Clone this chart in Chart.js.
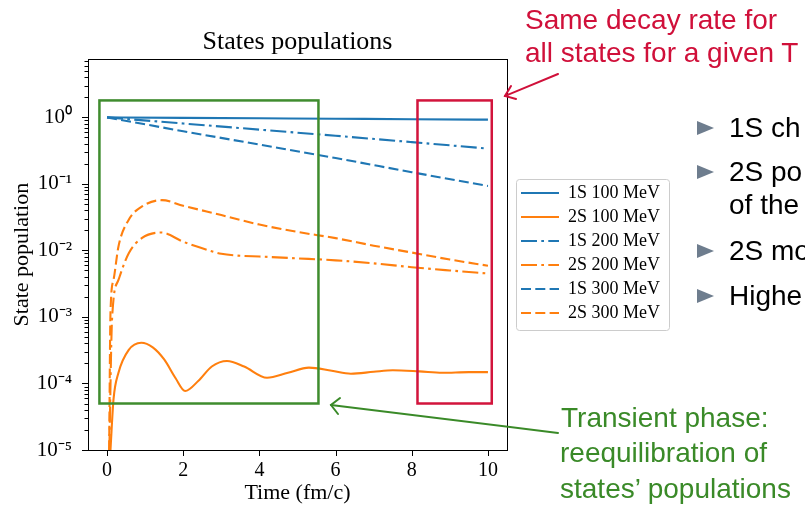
<!DOCTYPE html>
<html><head><meta charset="utf-8">
<script src="https://cdn.jsdelivr.net/npm/chart.js@4.4.1/dist/chart.umd.min.js"></script>
<style>
html,body{margin:0;padding:0;background:#fff;}
#wrap{position:relative;width:805px;height:506px;overflow:hidden;background:#fff;}
#c{position:absolute;left:0;top:0;}
.t{position:absolute;white-space:nowrap;font-family:"Liberation Sans",Arial,sans-serif;line-height:1;}
.red{color:#d0103a;font-size:28px;}
.grn{color:#3a8a28;font-size:28px;}
.blk{color:#000;font-size:28px;}
svg{position:absolute;left:0;top:0;}
</style></head><body>
<div id="wrap">
<canvas id="c" width="805" height="506"></canvas>
<svg width="805" height="506">
  <g stroke="#d0103a" stroke-width="2" fill="none" stroke-linecap="round">
    <line x1="558" y1="74" x2="505" y2="96"/>
    <polyline points="511,86 505,96 516,99"/>
  </g>
  <g stroke="#3a8a28" stroke-width="2" fill="none" stroke-linecap="round">
    <line x1="558" y1="433" x2="331" y2="405"/>
    <polyline points="340,398 331,405 338,414"/>
  </g>
  <g fill="#6e7d8e">
    <polygon points="697,121 714,128 697,135"/>
    <polygon points="697,165 714,172 697,179"/>
    <polygon points="697,244 714,251 697,258"/>
    <polygon points="697,289 714,296 697,303"/>
  </g>
</svg>
<div class="t red" style="left:525px;top:6px;">Same decay rate for</div>
<div class="t red" style="left:525px;top:39px;">all states for a given T</div>
<div class="t blk" style="left:729px;top:114px;">1S ch</div>
<div class="t blk" style="left:729px;top:158px;">2S po</div>
<div class="t blk" style="left:729px;top:191px;">of the</div>
<div class="t blk" style="left:729px;top:237px;">2S mo</div>
<div class="t blk" style="left:729px;top:282px;">Highe</div>
<div class="t grn" style="left:561px;top:404px;">Transient phase:</div>
<div class="t grn" style="left:560px;top:439px;">reequilibration of</div>
<div class="t grn" style="left:560px;top:475px;">states’ populations</div>
</div>
<script>
// ---- data ----
const xTickValues = [0, 2, 4, 6, 8, 10];
const yTickValues = [1e-5, 1e-4, 1e-3, 1e-2, 1e-1, 1];
const yTickLabels = ['10⁻⁵', '10⁻⁴', '10⁻³', '10⁻²', '10⁻¹', '10⁰'];
const seriesNames = ['1S 100 MeV', '2S 100 MeV', '1S 200 MeV', '2S 200 MeV', '1S 300 MeV', '2S 300 MeV'];

const t1S = [0, 2, 4, 6, 8, 10];
const v1S100 = [1.0, 0.985, 0.97, 0.955, 0.94, 0.925];
const v1S200 = [1.0, 0.81, 0.655, 0.53, 0.425, 0.34];
const v1S300 = [1.0, 0.62, 0.39, 0.245, 0.15, 0.093];

const t2S100 = [0.09, 0.17, 0.3, 0.57, 0.9, 1.2, 1.5, 1.8, 2.05, 2.4, 2.75, 3.15, 3.6, 4.2, 4.75, 5.3, 5.9, 6.4, 7.0, 7.5, 8.2, 8.8, 9.5, 10];
const v2S100 = [1e-5, 5.8e-5, 1.45e-4, 3.2e-4, 4.1e-4, 3.5e-4, 2.3e-4, 1.2e-4, 7.7e-5, 1.1e-4, 1.8e-4, 2.18e-4, 1.8e-4, 1.22e-4, 1.45e-4, 1.73e-4, 1.55e-4, 1.4e-4, 1.5e-4, 1.58e-4, 1.52e-4, 1.45e-4, 1.48e-4, 1.48e-4];

const t2S200 = [0.06, 0.13, 0.3, 0.57, 0.92, 1.42, 2, 2.5, 3, 3.5, 4, 5, 6, 7, 8, 9, 10];
const v2S200 = [1e-5, 9e-4, 3.6e-3, 9.1e-3, 0.0154, 0.0186, 0.0135, 0.0108, 0.0089, 0.0083, 0.0081, 0.0076, 0.0071, 0.0064, 0.0056, 0.005, 0.0045];

const t2S300 = [0.055, 0.09, 0.17, 0.3, 0.57, 0.92, 1.44, 2, 3, 4, 5, 6, 7, 8, 9, 10];
const v2S300 = [1e-5, 1.15e-3, 3.6e-3, 0.0115, 0.029, 0.046, 0.057, 0.047, 0.034, 0.0245, 0.019, 0.0153, 0.0118, 0.0093, 0.0073, 0.0059];

// annotation boxes (data coordinates)
const boxGreen = {x0: -0.2, x1: 5.55, y0: 5e-5, y1: 1.8};
const boxRed = {x0: 8.15, x1: 10.1, y0: 5e-5, y1: 1.8};

// ---- styles ----
const BLUE = '#1f77b4', ORANGE = '#ff7f0e';
const SOLID = [], DASHDOT = [16, 4.3, 2.7, 4.3], DASHED = [10, 4.3];
const pts = (ts, vs) => ts.map((t, i) => ({x: t, y: vs[i]}));
const mk = (label, ts, vs, color, dash) => ({
  label, data: pts(ts, vs), borderColor: color, backgroundColor: color,
  borderWidth: 2.1, borderDash: dash, pointRadius: 0, fill: false,
  cubicInterpolationMode: 'monotone'
});

const SERIF = '"Liberation Serif", "Times New Roman", serif';
Chart.defaults.font.family = SERIF;
Chart.defaults.color = '#000';

const isPow = v => Math.abs(Math.log10(v) - Math.round(Math.log10(v))) < 1e-9;

const legendShift = {
  id: 'legendShift',
  afterLayout(chart) { const lg = chart.legend; if (lg) { lg.left += 8; lg.right += 8; } }
};

const decor = {
  id: 'decor',
  afterDatasetsDraw(chart) {
    const {ctx, scales: {x, y}} = chart;
    ctx.save();
    ctx.lineWidth = 2.5;
    [[boxGreen, '#3f8c2e'], [boxRed, '#d2143c']].forEach(([b, c]) => {
      const l = x.getPixelForValue(b.x0), r = x.getPixelForValue(b.x1);
      const t = y.getPixelForValue(b.y1), bt = y.getPixelForValue(b.y0);
      ctx.strokeStyle = c;
      ctx.strokeRect(l, t, r - l, bt - t);
    });
    ctx.restore();
  },
  afterDraw(chart) {
    const {ctx, chartArea: a, scales: {x, y}} = chart;
    ctx.save();
    ctx.strokeStyle = '#000'; ctx.lineWidth = 1;
    ctx.beginPath();
    y.ticks.forEach(t => {
      const py = Math.round(y.getPixelForValue(t.value)) + 0.5;
      const len = isPow(t.value) ? 6 : 3.5;
      ctx.moveTo(a.left, py); ctx.lineTo(a.left - len, py);
    });
    x.ticks.forEach(t => {
      const px = Math.round(x.getPixelForValue(t.value)) + 0.5;
      ctx.moveTo(px, a.bottom); ctx.lineTo(px, a.bottom + 6);
    });
    ctx.stroke();
    ctx.strokeRect(Math.round(a.left) + 0.5, Math.round(a.top) + 0.5, Math.round(a.right - a.left), Math.round(a.bottom - a.top));
    // legend frame
    const hb = chart.legend.legendHitBoxes;
    if (hb && hb.length) {
      const l = Math.min(...hb.map(h => h.left)) - 5;
      const r = Math.max(...hb.map(h => h.left + h.width)) + 9;
      const t = Math.min(...hb.map(h => h.top)) - 5;
      const b = Math.max(...hb.map(h => h.top + h.height)) + 8;
      ctx.strokeStyle = '#cccccc';
      ctx.beginPath();
      ctx.roundRect(Math.round(l) + 0.5, Math.round(t) + 0.5, Math.round(r - l), Math.round(b - t), 3);
      ctx.stroke();
    }
    ctx.restore();
  }
};

new Chart(document.getElementById('c'), {
  type: 'line',
  data: {
    datasets: [
      mk(seriesNames[0], t1S, v1S100, BLUE, SOLID),
      mk(seriesNames[1], t2S100, v2S100, ORANGE, SOLID),
      mk(seriesNames[2], t1S, v1S200, BLUE, DASHDOT),
      mk(seriesNames[3], t2S200, v2S200, ORANGE, DASHDOT),
      mk(seriesNames[4], t1S, v1S300, BLUE, DASHED),
      mk(seriesNames[5], t2S300, v2S300, ORANGE, DASHED)
    ]
  },
  options: {
    responsive: false,
    animation: false,
    devicePixelRatio: 1,
    layout: {padding: {left: 0, top: 0, bottom: 0, right: 148}},
    plugins: {
      title: {
        display: true, text: 'States populations', fullSize: false,
        font: {size: 26, weight: 'normal', family: SERIF}, color: '#000',
        padding: {top: 27, bottom: 1}
      },
      legend: {
        position: 'right', align: 'center', maxWidth: 150,
        labels: {
          usePointStyle: true, pointStyle: 'line', pointStyleWidth: 38,
          font: {size: 18, family: SERIF}, color: '#000', padding: 6,
          generateLabels(chart) {
            return chart.data.datasets.map((d, i) => ({
              text: d.label, fillStyle: d.borderColor, strokeStyle: d.borderColor,
              lineWidth: d.borderWidth, lineDash: d.borderDash, pointStyle: 'line',
              hidden: false, datasetIndex: i, fontColor: '#000'
            }));
          }
        }
      },
      tooltip: {enabled: false}
    },
    scales: {
      x: {
        type: 'linear', min: -0.5, max: 10.5,
        afterBuildTicks(s) { s.ticks = xTickValues.map(v => ({value: v})); },
        afterFit(s) { s.height = 56; },
        grid: {display: false}, border: {display: false},
        ticks: {font: {size: 20, family: SERIF}, color: '#000', padding: 1, maxRotation: 0, autoSkip: false,
          callback: v => String(v)},
        title: {display: true, text: 'Time (fm/c)', font: {size: 22, family: SERIF}, color: '#000', padding: {top: 0, bottom: 0}}
      },
      y: {
        type: 'logarithmic', min: 1e-5, max: 7.5,
        afterBuildTicks(s) {
          const ticks = [];
          yTickValues.forEach(base => {
            for (let m = 1; m <= 9; m++) { const v = m * base; if (v <= s.max) ticks.push({value: v}); }
          });
          s.ticks = ticks;
        },
        afterFit(s) { s.width = 88; },
        grid: {display: false}, border: {display: false},
        ticks: {font: {size: 21, family: SERIF}, color: '#000', padding: 8, autoSkip: false,
          callback: v => { const i = yTickValues.findIndex(b => Math.abs(b - v) / b < 1e-9); return i >= 0 ? yTickLabels[i] : ''; }},
        title: {display: true, text: 'State population', font: {size: 22, family: SERIF}, color: '#000', padding: {top: 9, bottom: 0}}
      }
    }
  },
  plugins: [legendShift, decor]
});
</script>
</body></html>
